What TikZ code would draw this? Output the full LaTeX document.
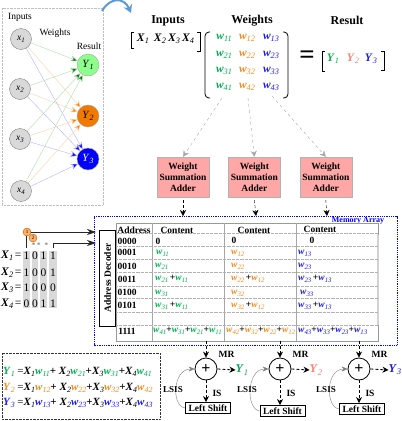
\documentclass[tikz,border=0pt]{standalone}
\usepackage{fontspec}
\setmainfont{Liberation Serif}
\usepackage{tikz}
\usetikzlibrary{arrows.meta,positioning,fit,calc}
\definecolor{wgreen}{HTML}{00B050}
\definecolor{worange}{HTML}{F58A1F}
\definecolor{wblue}{HTML}{1C1CF0}
\definecolor{wsalmon}{HTML}{FF7F6F}
\definecolor{wpink}{HTML}{FFA6A6}
\definecolor{wsky}{HTML}{5B9BD5}
\newcommand{\bi}[1]{\textbf{\textit{#1}}}
\newcommand{\subs}[1]{\raisebox{-.4ex}{\scalebox{.72}{\textit{#1}}}}
\newcommand{\XX}[1]{\bi{X}\subs{#1}}
\newcommand{\wg}[1]{\textcolor{wgreen}{\bi{w}\subs{#1}}}
\newcommand{\wo}[1]{\textcolor{worange}{\bi{w}\subs{#1}}}
\newcommand{\wb}[1]{\textcolor{wblue}{\bi{w}\subs{#1}}}
\begin{document}
\begin{tikzpicture}[
  x=1pt, y=-1pt,
  font=\fontsize{9.5}{10}\selectfont,
  neuron/.style={draw=gray, circle, fill=gray!30, minimum size=21pt, inner sep=0pt},
  outneuron/.style={draw=gray!70, circle, minimum size=22pt, inner sep=0pt, font=\fontsize{11}{11}\selectfont},
  gedge/.style={-{Stealth[length=7pt,width=6pt,fill=green!45!black]}, green!40!gray!45, line width=.4pt},
  oedge/.style={-{Stealth[length=7pt,width=6pt,fill=orange]}, orange!35, line width=.4pt},
  bedge/.style={-{Stealth[length=7pt,width=6pt,fill=blue]}, blue!30, line width=.4pt},
  head/.style={font=\fontsize{12}{12}\selectfont\bfseries},
  adder/.style={draw=gray!60, fill=wpink, minimum width=52pt, minimum height=40pt,
                align=center, inner sep=0pt, font=\fontsize{9.5}{11}\selectfont\bfseries},
  gray dash/.style={draw=gray!70, dashed, -{Stealth[length=6pt,width=6pt]}},
  black dash/.style={densely dashed, -{Stealth[length=6pt,width=6pt]}},
  sumnode/.style={draw, circle, thick, minimum size=22pt, inner sep=0pt, fill=white,
                  font=\fontsize{16}{16}\selectfont\bfseries},
  shiftbox/.style={draw, thick, minimum width=45pt, minimum height=11pt, inner sep=0pt,
                   font=\fontsize{9.5}{10}\selectfont\bfseries},
  bold/.style={font=\fontsize{9.5}{10}\selectfont\bfseries},
  cell/.style={inner sep=0pt, font=\fontsize{9.5}{10}\selectfont},
  mat/.style={inner sep=0pt, font=\fontsize{11.5}{12}\selectfont},
  eqn/.style={anchor=west, inner sep=0pt, font=\fontsize{11}{12}\selectfont},
  >={Stealth[]}]
\useasboundingbox (0,0) rectangle (402,421);
% network
\draw[gray!50, densely dotted] (2,8) rectangle (103,205);
\node[inner sep=0pt] (ninputs) at (20,17) {Inputs};
\node[inner sep=0pt] (nweights) at (55,33) {Weights};
\node[inner sep=0pt] (nresult) at (89,46) {Result};
\node[neuron] (x1) at (21,39) {\textit{x}\subs{1}};
\node[neuron] (x2) at (20,89) {\textit{x}\subs{2}};
\node[neuron] (x3) at (20,139) {\textit{x}\subs{3}};
\node[neuron] (x4) at (21,191) {\textit{x}\subs{4}};
\node[outneuron, fill=green!45!white] (y1) at (88,65) {\textit{Y}\subs{1}};
\node[outneuron, fill=orange!95!black] (y2) at (88,116) {\textit{Y}\subs{2}};
\node[outneuron, fill=blue, text=white] (y3) at (88,159) {\textit{Y}\subs{3}};
\foreach \i in {1,...,4}{
  \draw[gedge] (x\i) -- (y1);
  \draw[oedge] (x\i) -- (y2);
  \draw[bedge] (x\i) -- (y3);
}
\coordinate (cstart) at (102,11);
\coordinate (cend) at (131,13);
\draw[-{Stealth[length=8pt,width=9pt]}, line width=2pt, wsky]
  (cstart) .. controls (110,-3) and (124,-3) .. (cend);
% matrix equation
\node[head] (hinputs) at (168,21) {Inputs};
\node[head] (hweights) at (252,21) {Weights};
\node[head] (hresult) at (347,20) {Result};
\node[mat] (minput) at (165.5,39)
  {\XX{1}\kern 5pt\XX{2}\kern 2pt\XX{3}\kern 2pt\XX{4}};
\draw[thick] (134,32) -- (131,32) -- (131,48) -- (134,48);
\draw[thick] (197,32) -- (200,32) -- (200,51) -- (197,51);
\foreach \r/\ry in {1/38,2/55,3/71,4/87}{
  \node[mat] (mg\r) at (224,\ry) {\wg{\r1}};
  \node[mat] (mo\r) at (247,\ry) {\wo{\r2}};
  \node[mat] (mb\r) at (271,\ry) {\wb{\r3}};
}
\draw[thick, rounded corners=4pt] (210,32) -- (205,32) -- (205,98) -- (210,98);
\draw[thick, rounded corners=4pt] (283,32) -- (288,32) -- (288,98) -- (283,98);
\node[inner sep=0pt, font=\fontsize{27}{27}\selectfont\bfseries] (meq) at (307,57) {=};
\node[mat] (myone) at (333,59) {\textcolor{wgreen}{\bi{Y}\subs{1}}};
\node[mat] (mytwo) at (353,59) {\textcolor{wsalmon}{\bi{Y}\subs{2}}};
\node[mat] (mythree) at (371,59) {\textcolor{wblue}{\bi{Y}\subs{3}}};
\draw[thick] (325,51) -- (322,51) -- (322,71) -- (325,71);
\draw[thick] (381,51) -- (384,51) -- (384,70) -- (381,70);
% adders
\node[adder] (add1) at (183,177) {Weight\\Summation\\Adder};
\node[adder, right=19pt of add1] (add2) {Weight\\Summation\\Adder};
\node[adder, right=19pt of add2] (add3) {Weight\\Summation\\Adder};
\coordinate (m1) at (222,98);
\coordinate (m2) at (248,98);
\coordinate (m3) at (272,96);
\draw[gray dash] (m1) -- (add1.north);
\draw[gray dash] (m2) -- (add2.north);
\draw[gray dash] (m3) -- (add3.north);
% memory array
\draw[blue, densely dotted, thick] (94,216.5) rectangle (397,345);
\node[inner sep=0pt, text=blue, font=\fontsize{8}{8}\selectfont\bfseries] (memlabel) at (358,220.5) {Memory Array};
\coordinate (mem1) at (183,216);
\coordinate (mem2) at (256,216);
\coordinate (mem3) at (327,216);
\draw[black dash] (add1.south) ++(0,3) -- (mem1);
\draw[black dash] (add2.south) ++(0,3) -- (mem2);
\draw[black dash] (add3.south) ++(0,3) -- (mem3);
% table
\draw[gray!80] (116,223) rectangle (378,341);
\draw[gray!35, line width=1.5pt] (378,235) -- (378,325);
\foreach \vx in {152,224,296}{\draw[gray!70] (\vx,223) -- (\vx,341);}
\foreach \hy in {233,246,259,272,286,298,312,325}{\draw[gray!60, densely dotted, line width=.3pt] (116,\hy) -- (378,\hy);}
\node[bold] (taddr) at (134,230) {Address};
\node[bold] (tc1) at (177,230) {Content};
\node[bold] (tc2) at (254,230) {Content};
\node[bold] (tc3) at (320,229) {Content};
\foreach \a/\ay in {0000/241,0001/252,0010/266,0011/279,0100/292,0101/305,1111/331}{
  \node[bold] (t\a) at (127,\ay) {\a};
}
\node[bold] (z1) at (158,241) {0};
\node[bold] (z2) at (234,240) {0};
\node[bold] (z3) at (312,240) {0};
\node[cell, anchor=west] (g1) at (156,253) {\wg{11}};
\node[cell, anchor=west] (g2) at (155,266) {\wg{21}};
\node[cell, anchor=west] (g3) at (155,279) {\wg{21}\,\textbf{+}\wg{11}};
\node[cell, anchor=west] (g4) at (155,293) {\wg{31}};
\node[cell, anchor=west] (g5) at (155,306) {\wg{31}\,\textbf{+}\wg{11}};
\node[cell, anchor=west] (g6) at (153,331) {\wg{41}\textbf{+}\wg{31}\textbf{+}\wg{21}\textbf{+}\wg{11}};
\node[cell, anchor=west] (o1) at (231,253) {\wo{12}};
\node[cell, anchor=west] (o2) at (231,266) {\wo{22}};
\node[cell, anchor=west] (o3) at (231,279) {\wo{22}\,\textbf{+}\wo{12}};
\node[cell, anchor=west] (o4) at (231,293) {\wo{32}};
\node[cell, anchor=west] (o5) at (231,306) {\wo{32}\,\textbf{+}\wo{12}};
\node[cell, anchor=west] (o6) at (226,331) {\wo{42}\textbf{+}\wo{32}\textbf{+}\wo{22}\textbf{+}\wo{12}};
\node[cell, anchor=west] (b1) at (298,253) {\wb{13}};
\node[cell, anchor=west] (b2) at (298,266) {\wb{23}};
\node[cell, anchor=west] (b3) at (298,279) {\wb{23}\,\textbf{+}\wb{13}};
\node[cell, anchor=west] (b4) at (300,293) {\wb{33}};
\node[cell, anchor=west] (b5) at (298,306) {\wb{33}\,\textbf{+}\wb{13}};
\node[cell, anchor=west] (b6) at (298,331) {\wb{43}\textbf{+}\wb{33}\textbf{+}\wb{23}\textbf{+}\wb{13}};
% decoder and bits
\node[draw, thick, fill=white, minimum width=96pt, minimum height=16pt, inner sep=0pt, rotate=90,
      font=\fontsize{9.5}{10}\selectfont\bfseries] (decoder) at (107.5,278) {Address Decoder};
\foreach \cx/\cw in {26.5/7,35/6,43.5/7,53/8}{\fill[gray!30] (\cx-\cw/2,251) rectangle (\cx+\cw/2,308);}
\foreach \r/\ry/\ba/\bb/\bc/\bd in {1/256/1/0/1/1,2/273/1/0/0/1,3/288/1/0/0/0,4/304/0/0/1/1}{
  \node[mat, anchor=west] (X\r) at (1,\ry) {\XX{\r}};
  \node[mat] (eq\r) at (18,\ry) {=};
  \node[mat] (bita\r) at (26.5,\ry) {\ba};
  \node[mat] (bitb\r) at (35,\ry) {\bb};
  \node[mat] (bitc\r) at (43.5,\ry) {\bc};
  \node[mat] (bitd\r) at (53,\ry) {\bd};
}
\coordinate (bitup1) at (26,248);
\coordinate (bitup2) at (53,248);
\draw[gray!30!black, thick, -{Stealth[length=9pt,width=6pt]}] (bitup1) |- (96,232);
\draw[gray!30!black, thick, -{Stealth[length=9pt,width=6pt]}] (bitup2) |- (96,243);
\node[circle, draw=orange!70!black, fill=orange!60, minimum size=8pt, inner sep=0pt, font=\fontsize{5}{5}\selectfont] (c1) at (27,232) {1};
\node[circle, draw=orange!70!black, fill=orange!60, minimum size=8pt, inner sep=0pt, font=\fontsize{5}{5}\selectfont] (c2) at (33,238) {2};
\node[inner sep=0pt, text=gray, font=\fontsize{7}{7}\selectfont\bfseries] (dots) at (40,245) {* *\kern 4pt*};
% equations
\draw[densely dotted, gray!40!black] (2,353) rectangle (160,419);
\node[eqn] (line1) at (3,372) {\textcolor{wgreen}{\bi{Y}\subs{1}} =\XX{1}\wg{11}\textbf{+} \XX{2}\wg{21}\textbf{+}\XX{3}\wg{31}\textbf{+}\XX{4}\wg{41}};
\node[eqn] (line2) at (3,388) {\textcolor{worange}{\bi{Y}\subs{2}} =\XX{1}\wo{12}\textbf{+} \XX{2}\wo{22}\textbf{+}\XX{3}\wo{32}\textbf{+}\XX{4}\wo{42}};
\node[eqn] (line3) at (3,403) {\textcolor{wblue}{\bi{Y}\subs{3}} =\XX{1}\wb{13}\textbf{+} \XX{2}\wb{23}\textbf{+}\XX{3}\wb{33}\textbf{+}\XX{4}\wb{43}};
% accumulators
\foreach \n/\sx/\bx/\by/\yx/\yc in {1/206/208/408/242/wgreen,2/280/282.5/411/316/wsalmon,3/359/362/409/395/wblue}{
  \node[sumnode] (sum\n) at (\sx,369) {+};
  \node[shiftbox] (ls\n) at (\bx,\by) {Left Shift};
  \node[inner sep=0pt, font=\fontsize{12}{12}\selectfont, text=\yc] (out\n) at (\yx,370) {\bi{Y}\subs{\n}};
  \coordinate (tabout\n) at (\sx,341);
  \draw[black dash, thick] (tabout\n) -- (sum\n.north);
  \draw[black dash, thick] (sum\n.east) -- (out\n.west);
  \draw[black dash, thick] (sum\n.south) -- (ls\n.north -| sum\n);
  \draw[gray, -{Stealth[length=6pt,width=5pt]}] (ls\n.west) .. controls +(-14,-2) and +(-22,0) .. (sum\n.west);
  \node[bold, anchor=west] (mr\n) at (\sx+9,354) {MR};
  \node[bold, anchor=west] (is\n) at (\sx+3,393) {IS};
  \node[font=\fontsize{9}{9}\selectfont\bfseries] (lsis\n) at (\sx-33,390) {LSIS};
}
\end{tikzpicture}
\end{document}
